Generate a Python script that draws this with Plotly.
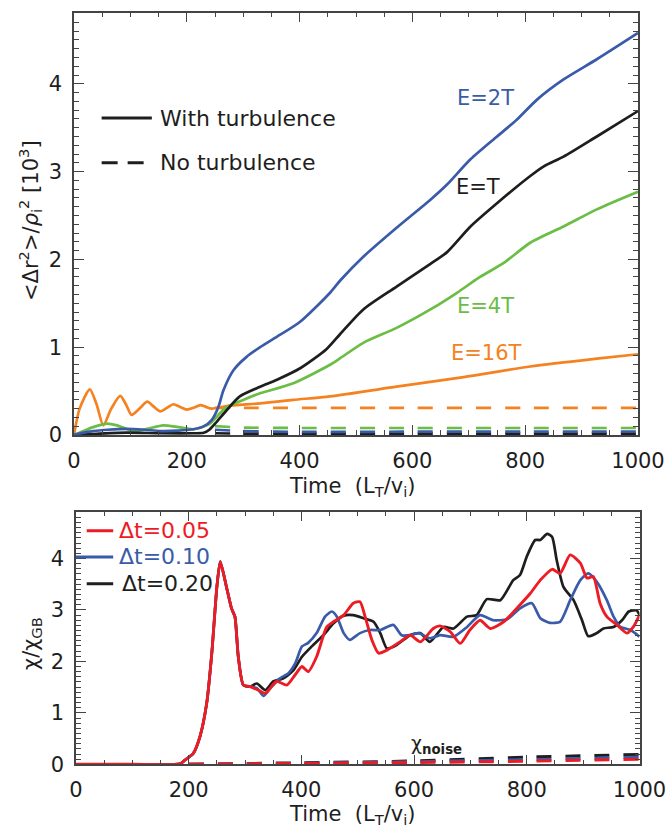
import plotly.graph_objects as go

# ---------------- data: top panel (mean square displacement, 10^3) -------------
blue_t = [0, 15, 34, 60, 93, 125, 153, 185, 211, 229, 244, 256, 265, 283, 306, 330, 360, 401, 454, 472, 513, 572, 632, 661, 703, 750, 785, 821, 868, 927, 1000]
blue_y = [0, 0.025, 0.045, 0.06, 0.07, 0.06, 0.045, 0.05, 0.065, 0.095, 0.17, 0.32, 0.51, 0.74, 0.89, 1.0, 1.12, 1.29, 1.62, 1.76, 2.03, 2.36, 2.68, 2.85, 3.14, 3.40, 3.59, 3.82, 4.05, 4.28, 4.58]

black_t = [0, 30, 93, 153, 211, 230, 240, 253, 271, 294, 330, 360, 401, 448, 472, 513, 572, 632, 661, 703, 750, 809, 833, 868, 927, 1000]
black_y = [0, 0.01, 0.026, 0.02, 0.02, 0.025, 0.06, 0.15, 0.285, 0.44, 0.55, 0.63, 0.76, 0.98, 1.15, 1.43, 1.69, 1.95, 2.08, 2.375, 2.64, 2.95, 3.06, 3.17, 3.40, 3.69]

green_t = [0, 22, 34, 58, 76, 105, 130, 158, 185, 212, 241, 259, 271, 300, 330, 389, 454, 472, 513, 572, 632, 679, 720, 762, 809, 868, 927, 1000]
green_y = [0, 0.06, 0.09, 0.13, 0.11, 0.045, 0.07, 0.11, 0.09, 0.065, 0.13, 0.25, 0.32, 0.40, 0.475, 0.59, 0.80, 0.875, 1.05, 1.22, 1.43, 1.62, 1.80, 1.96, 2.19, 2.375, 2.57, 2.77]

orange_t = [0, 10, 28, 40, 52, 66, 82, 92, 102, 116, 130, 142, 153, 165, 176, 188, 200, 212, 224, 234, 244, 271, 330, 389, 454, 572, 691, 809, 927, 1000]
orange_y = [0, 0.3, 0.52, 0.35, 0.11, 0.3, 0.445, 0.35, 0.23, 0.3, 0.38, 0.32, 0.27, 0.31, 0.35, 0.32, 0.29, 0.31, 0.34, 0.32, 0.30, 0.33, 0.36, 0.40, 0.44, 0.55, 0.66, 0.78, 0.87, 0.92]

# no-turbulence (dashed)
nt_t = [250, 300, 400, 600, 800, 1000]
nt_orange = [0.31, 0.31, 0.31, 0.31, 0.31, 0.31]
nt_green = [0.10, 0.085, 0.08, 0.08, 0.08, 0.08]
nt_blue = [0.06, 0.045, 0.035, 0.038, 0.038, 0.04]
nt_black = [0.02, 0.015, 0.015, 0.015, 0.015, 0.015]

top_labels = ["E=2T", "E=T", "E=4T", "E=16T"]
top_label_t = [729, 717, 729, 732]
top_label_y = [3.84, 2.83, 1.47, 0.93]

# ---------------- data: bottom panel (chi / chi_GB) ---------------------------
early_t = [0, 100, 185, 193, 208, 220, 232, 241, 250, 256, 267, 276, 282, 288, 297, 309]
early_v = [0, 0, 0.01, 0.08, 0.21, 0.54, 1.19, 2.16, 3.45, 3.94, 3.45, 3.03, 2.87, 2.09, 1.54, 1.51]

red_t = early_t + [324, 336, 356, 374, 389, 401, 412, 427, 445, 457, 475, 492, 504, 513, 525, 537, 552, 575, 593, 611, 634, 646, 664, 682, 699, 717, 735, 759, 782, 806, 824, 845, 859, 877, 895, 907, 918, 930, 942, 960, 978, 989, 1000]
red_v = early_v + [1.44, 1.38, 1.61, 1.54, 1.74, 1.90, 1.80, 2.09, 2.67, 2.77, 2.90, 3.13, 3.16, 2.87, 2.42, 2.16, 2.22, 2.38, 2.51, 2.38, 2.64, 2.69, 2.58, 2.35, 2.61, 2.80, 2.64, 2.77, 3.03, 3.32, 3.58, 3.79, 3.71, 4.07, 3.91, 3.62, 3.65, 3.13, 2.87, 2.71, 2.55, 2.67, 2.90]

blue2_t = early_t + [321, 333, 347, 362, 377, 389, 401, 412, 427, 442, 454, 463, 475, 486, 504, 522, 540, 563, 578, 593, 608, 628, 646, 670, 694, 717, 741, 765, 788, 809, 824, 841, 859, 877, 895, 909, 924, 942, 954, 966, 984, 1000]
blue2_v = early_v + [1.48, 1.33, 1.51, 1.67, 1.77, 1.96, 2.29, 2.36, 2.55, 2.87, 2.97, 2.87, 2.55, 2.42, 2.55, 2.61, 2.61, 2.71, 2.51, 2.51, 2.55, 2.45, 2.51, 2.48, 2.67, 2.90, 2.80, 2.82, 3.03, 3.13, 2.84, 2.75, 2.77, 3.19, 3.58, 3.71, 3.55, 3.19, 2.87, 2.67, 2.61, 2.48]

black2_t = early_t + [321, 336, 350, 368, 386, 401, 421, 439, 457, 475, 492, 510, 528, 540, 552, 569, 593, 611, 628, 652, 670, 694, 711, 729, 753, 776, 788, 800, 815, 824, 836, 845, 853, 865, 883, 898, 909, 924, 936, 954, 969, 981, 995, 1000]
black2_v = early_v + [1.57, 1.44, 1.61, 1.67, 1.83, 2.09, 2.32, 2.51, 2.74, 2.89, 2.90, 2.84, 2.77, 2.55, 2.25, 2.32, 2.51, 2.55, 2.38, 2.67, 2.64, 2.87, 2.90, 3.21, 3.19, 3.58, 3.68, 4.04, 4.36, 4.36, 4.48, 4.42, 3.97, 3.45, 3.19, 2.80, 2.49, 2.55, 2.64, 2.67, 2.80, 2.97, 2.99, 2.90]

noise_t = [200, 400, 600, 800, 1000]
noise_black = [0.0, 0.03, 0.065, 0.14, 0.19]
noise_blue = [0.0, 0.02, 0.05, 0.09, 0.14]
noise_red = [0.0, 0.015, 0.035, 0.06, 0.10]

dt_labels = ["Δt=0.05", "Δt=0.10", "Δt=0.20"]

# ---------------- style ------------------------------------------------------
C_BLUE = "#3A5BA9"
C_BLACK = "#1E1E1E"
C_GREEN = "#6ABD45"
C_ORANGE = "#F58220"
C_RED = "#ED1C24"
FONT = "DejaVu Sans"
TXT = "#1E1E1E"
W, H = 668, 831

fig = go.Figure()

def line(x, y, color, dash="solid", xa="x", ya="y", width=2.7, smooth=0.7):
    fig.add_trace(go.Scatter(x=x, y=y, mode="lines", xaxis=xa, yaxis=ya,
                             line=dict(color=color, width=width, dash=dash,
                                       shape="spline", smoothing=smooth),
                             showlegend=False, hoverinfo="skip"))

DASH = "15px,14px"
# top panel
line(nt_t, nt_orange, C_ORANGE, DASH)
line(nt_t, nt_green, C_GREEN, DASH)
line(nt_t, nt_black, C_BLACK, DASH)
line(nt_t, nt_blue, C_BLUE, DASH)
line(orange_t, orange_y, C_ORANGE)
line(green_t, green_y, C_GREEN)
line(black_t, black_y, C_BLACK)
line(blue_t, blue_y, C_BLUE)

# bottom panel
line(noise_t, noise_black, C_BLACK, DASH, "x2", "y2", width=3)
line(noise_t, noise_blue, C_BLUE, DASH, "x2", "y2", width=3)
line(noise_t, noise_red, C_RED, DASH, "x2", "y2", width=3)
line(black2_t, black2_v, C_BLACK, xa="x2", ya="y2", smooth=0.6)
line(blue2_t, blue2_v, C_BLUE, xa="x2", ya="y2", smooth=0.6)
line(red_t, red_v, C_RED, xa="x2", ya="y2", smooth=0.6, width=2.9)

def xaxis(domain, anchor):
    return dict(domain=domain, anchor=anchor, range=[0, 1000], tickvals=[0, 200, 400, 600, 800, 1000],
                ticks="inside", ticklen=10, tickwidth=1.2, tickcolor="#444", automargin=False,
                showline=True, linecolor="#444", linewidth=1.5, mirror="allticks",
                showgrid=False, zeroline=False,
                minor=dict(dtick=50, tick0=0, ticks="inside", ticklen=5, tickwidth=1, tickcolor="#444", showgrid=False),
                tickfont=dict(family=FONT, size=21, color=TXT), ticklabelstandoff=6)

def yaxis(domain, anchor, rng):
    return dict(domain=domain, anchor=anchor, range=rng, tickvals=[0, 1, 2, 3, 4],
                ticks="inside", ticklen=10, tickwidth=1.2, tickcolor="#444", automargin=False,
                showline=True, linecolor="#444", linewidth=1.5, mirror="allticks",
                showgrid=False, zeroline=False,
                minor=dict(dtick=0.1, tick0=0, ticks="inside", ticklen=5, tickwidth=1, tickcolor="#444", showgrid=False),
                tickfont=dict(family=FONT, size=21, color=TXT), ticklabelstandoff=6)

fig.update_layout(
    width=W, height=H, margin=dict(l=0, r=0, t=0, b=0, autoexpand=False),
    paper_bgcolor="white", plot_bgcolor="white",
    xaxis=xaxis([74 / W, 638 / W], "y"),
    yaxis=yaxis([1 - 435 / H, 1 - 12.7 / H], "x", [0, 4.81]),
    xaxis2=xaxis([76 / W, 639.5 / W], "y2"),
    yaxis2=yaxis([1 - 764.3 / H, 1 - 511.7 / H], "x2", [0, 4.91]),
    showlegend=False,
)

ann = []
# curve labels
for txt, tt, yy, c in zip(top_labels, top_label_t, top_label_y, [C_BLUE, C_BLACK, C_GREEN, C_ORANGE]):
    ann.append(dict(x=tt, y=yy, xref="x", yref="y", text=txt, showarrow=False,
                    font=dict(family=FONT, size=21, color=c), xanchor="center", yanchor="middle"))

# top legend
legend_items = [("With turbulence", "solid", 3.61), ("No turbulence", "16px,10px", 3.10)]
for txt, d, yy in legend_items:
    fig.add_shape(type="line", xref="x", yref="y", x0=49, x1=(138 if d == "solid" else 129), y0=yy, y1=yy,
                  line=dict(color=C_BLACK, width=3, dash=d))
    ann.append(dict(x=149, y=yy, xref="x", yref="y", text=txt, showarrow=False,
                    font=dict(family=FONT, size=22, color=TXT), xanchor="left", yanchor="middle"))

# bottom legend
for txt, c, yy, x0, x1, xt in zip(dt_labels, [C_RED, C_BLUE, C_BLACK], [4.54, 4.03, 3.51],
                                  [19, 0, 19], [66, 66, 66], [72, 72, 78]):
    fig.add_shape(type="line", xref="x2", yref="y2", x0=x0, x1=x1, y0=yy, y1=yy,
                  line=dict(color=c, width=3))
    ann.append(dict(x=xt, y=yy, xref="x2", yref="y2", text=txt, showarrow=False,
                    font=dict(family=FONT, size=22, color=(c if c != C_BLACK else TXT)),
                    xanchor="left", yanchor="middle"))

ann.append(dict(x=640, y=0.38, xref="x2", yref="y2", text="χ<sub><b>noise</b></sub>", showarrow=False,
                font=dict(family=FONT, size=19, color=TXT), xanchor="center", yanchor="middle"))

# axis titles
xt_text = "Time&nbsp; (L<sub>T</sub>/v<sub>i</sub>)"
ann.append(dict(x=352 / W, y=1 - 487 / H, xref="paper", yref="paper", text=xt_text, showarrow=False,
                font=dict(family=FONT, size=21, color=TXT), xanchor="center", yanchor="middle"))
ann.append(dict(x=352 / W, y=1 - 815 / H, xref="paper", yref="paper", text=xt_text, showarrow=False,
                font=dict(family=FONT, size=21, color=TXT), xanchor="center", yanchor="middle"))
ann.append(dict(x=30 / W, y=1 - 221 / H, xref="paper", yref="paper",
                text="&lt;Δr<sup>2</sup>&gt;/<i>ρ</i><sub>i</sub><sup>2</sup> [10<sup>3</sup>]",
                showarrow=False, textangle=-90,
                font=dict(family=FONT, size=21, color=TXT), xanchor="center", yanchor="middle"))
ann.append(dict(x=32 / W, y=1 - 644 / H, xref="paper", yref="paper",
                text="χ/χ<sub>GB</sub>", showarrow=False, textangle=-90,
                font=dict(family=FONT, size=21, color=TXT), xanchor="center", yanchor="middle"))

fig.update_layout(annotations=ann)
fig.write_html("out.html", config={"displayModeBar": False},
               post_script="document.body.style.margin='0px';")
